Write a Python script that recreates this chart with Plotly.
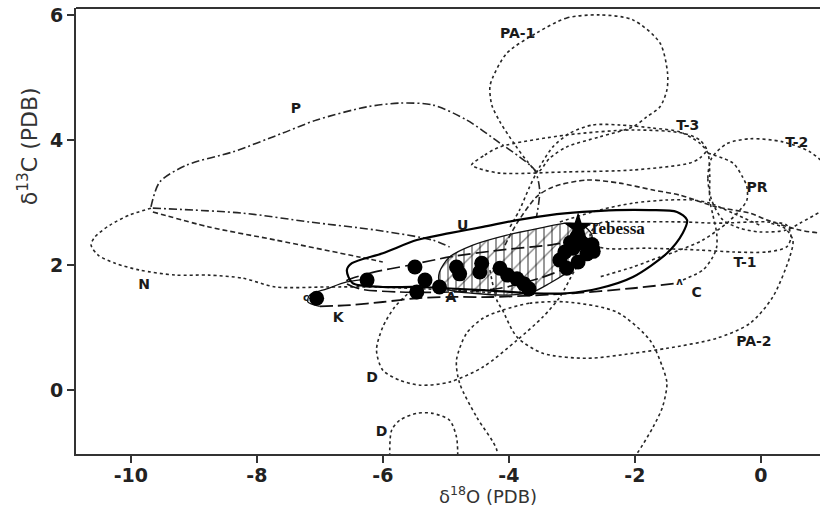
import plotly.graph_objects as go

# ---------------- data: envelope outlines (d18O, d13C) ----------------
p_upper_x = [-9.68, -9.54, -9.11, -8.38, -7.59, -7.05, -6.25, -5.73, -5.21, -4.67, -4.14, -3.83, -3.59, -3.51, -3.56]
p_upper_y = [2.93, 3.33, 3.60, 3.81, 4.11, 4.32, 4.53, 4.59, 4.56, 4.32, 3.95, 3.73, 3.52, 3.20, 2.77]
p_lower_x = [-9.65, -8.22, -7.17, -6.11, -5.21, -4.94]
p_lower_y = [2.91, 2.83, 2.69, 2.56, 2.40, 2.29]

n_outer_x = [-9.68, -10.02, -10.33, -10.57, -10.63, -10.52, -10.25, -9.86, -9.29, -8.76, -8.22, -7.70, -6.90, -6.11, -4.94, -4.14]
n_outer_y = [2.91, 2.80, 2.64, 2.45, 2.32, 2.16, 2.03, 1.92, 1.84, 1.84, 1.79, 1.65, 1.65, 1.65, 1.60, 1.55]
n_inner_x = [-9.65, -8.76, -7.70, -6.38, -6.00]
n_inner_y = [2.85, 2.61, 2.40, 2.13, 2.05]

pa1_x = [-2.56, -3.08, -3.56, -4.03, -4.25, -4.30, -4.27, -4.14, -3.90, -3.70, -3.54, -3.35, -3.08, -2.56, -2.03, -1.81, -1.60, -1.49, -1.48, -1.60, -2.03, -2.56]
pa1_y = [6.00, 5.95, 5.71, 5.39, 5.01, 4.85, 4.56, 4.29, 3.92, 3.65, 3.49, 3.71, 3.89, 4.05, 4.21, 4.37, 4.53, 4.80, 5.07, 5.55, 5.92, 6.00]

t3_x = [-4.59, -4.38, -4.14, -3.08, -2.03, -1.24, -0.97, -0.86, -0.97, -1.13, -2.03, -3.08, -4.14, -4.49, -4.59]
t3_y = [3.60, 3.76, 3.89, 4.08, 4.16, 4.11, 4.00, 3.84, 3.71, 3.63, 3.52, 3.49, 3.47, 3.55, 3.60]

arc_r_x = [-3.98, -3.83, -3.67, -3.51, -3.30, -3.03, -2.67, -2.24, -1.71, -1.29, -0.97, -0.84, -0.81, -0.81, -0.76, -0.70, -0.70, -0.76, -0.92, -1.24]
arc_r_y = [2.61, 2.88, 3.25, 3.57, 3.89, 4.11, 4.24, 4.24, 4.19, 4.13, 3.95, 3.79, 3.44, 3.04, 2.80, 2.51, 2.29, 2.13, 1.92, 1.76]

arc_s_x = [-4.06, -3.87, -3.56, -3.30, -2.76, -2.24, -1.71, -1.29, -0.70, -0.17, 0.10, 0.62, 0.94]
arc_s_y = [2.32, 2.67, 3.09, 3.25, 3.36, 3.31, 3.20, 3.12, 2.93, 2.83, 2.72, 2.56, 2.51]

arc_q_x = [-3.19, -2.56, -2.03, -1.49, -1.08, -0.81, -0.44, -0.02]
arc_q_y = [2.69, 2.88, 2.99, 3.04, 3.04, 2.99, 2.83, 2.64]

t2_x = [-0.78, -0.84, -0.78, -0.54, -0.17, 0.35, 0.78, 1.10, 1.25, 1.10, 0.94, 0.62, 0.41, -0.02, -0.33, -0.60, -0.78]
t2_y = [3.04, 3.39, 3.71, 3.94, 4.02, 3.97, 3.81, 3.52, 3.12, 2.96, 2.85, 2.67, 2.56, 2.53, 2.59, 2.72, 3.04]

pr_x = [-0.84, -0.44, -0.29, -0.22, -0.22, -0.33, -0.54, -0.92, -1.29, -1.60, -2.03, -2.56]
pr_y = [3.79, 3.63, 3.41, 3.25, 3.04, 2.88, 2.67, 2.40, 2.24, 2.13, 1.97, 1.81]

t1_x = [-2.71, -2.56, -2.03, -1.24, -0.70, 0.10, 0.41, 0.48, 0.41, 0.10, -0.44, -0.97, -1.76, -2.56, -2.71]
t1_y = [2.48, 2.67, 2.69, 2.69, 2.67, 2.69, 2.64, 2.45, 2.29, 2.21, 2.21, 2.24, 2.27, 2.29, 2.48]

pa2_x = [-4.30, -4.19, -4.10, -3.87, -3.46, -2.76, -2.03, -1.49, -0.70, -0.17, 0.19, 0.46, 0.51, 0.38, 0.14]
pa2_y = [1.92, 1.44, 1.28, 0.85, 0.59, 0.51, 0.59, 0.67, 0.83, 1.07, 1.49, 2.13, 2.40, 2.59, 2.67]

big_x = [-4.10, -3.67, -3.08, -2.29, -1.76, -1.56, -1.49, -1.56, -1.71, -1.97, -2.24, -3.19, -4.22, -4.19, -4.51, -4.78, -4.83, -4.67, -4.41, -4.10]
big_y = [1.28, 1.39, 1.41, 1.25, 0.80, 0.37, 0.11, -0.27, -0.59, -1.02, -1.36, -1.52, -1.28, -0.96, -0.43, 0.11, 0.48, 0.91, 1.15, 1.28]

d_up_x = [-5.54, -5.81, -6.00, -6.10, -6.00, -5.73, -5.41, -4.94, -4.41, -3.87, -3.46, -3.19, -2.95, -2.71]
d_up_y = [1.60, 1.33, 1.01, 0.64, 0.32, 0.16, 0.08, 0.13, 0.37, 0.80, 1.17, 1.49, 1.92, 2.27]

d_low_x = [-5.89, -5.86, -5.73, -5.46, -5.21, -4.94, -4.83, -4.81]
d_low_y = [-1.06, -0.64, -0.48, -0.37, -0.37, -0.48, -0.75, -1.06]

kc_x = [-7.00, -6.52, -6.00, -5.46, -4.94, -4.25, -2.98, -2.03, -1.33]
kc_y = [1.34, 1.36, 1.41, 1.47, 1.49, 1.49, 1.55, 1.63, 1.71]

k_top_x = [-7.00, -7.19, -7.16, -6.89, -6.57, -6.25]
k_top_y = [1.34, 1.41, 1.52, 1.62, 1.73, 1.78]

a_x = [-6.60, -6.21, -5.57, -4.94, -4.14, -3.35, -2.71, -2.56, -2.87, -3.51, -4.14, -4.94, -5.73, -6.37, -6.60]
a_y = [1.73, 1.87, 2.00, 2.13, 2.24, 2.32, 2.40, 2.27, 2.05, 1.79, 1.63, 1.57, 1.57, 1.62, 1.73]

u_x = [-6.57, -6.49, -6.00, -5.46, -4.94, -4.41, -3.87, -3.35, -2.83, -2.29, -1.76, -1.33, -1.17, -1.24, -1.49, -2.03, -2.56, -3.08, -3.62, -4.41, -5.46, -6.00, -6.48, -6.57]
u_y = [1.92, 2.03, 2.19, 2.40, 2.51, 2.61, 2.72, 2.80, 2.85, 2.88, 2.88, 2.85, 2.72, 2.51, 2.19, 1.81, 1.63, 1.55, 1.55, 1.60, 1.65, 1.65, 1.71, 1.92]

hatch_x = [-5.10, -4.94, -4.57, -4.03, -3.51, -3.08, -2.83, -2.68, -2.75, -2.98, -3.35, -3.62, -4.03, -4.57, -4.94, -5.10, -5.10]
hatch_y = [1.89, 2.13, 2.32, 2.48, 2.59, 2.67, 2.64, 2.48, 2.21, 1.95, 1.71, 1.57, 1.52, 1.55, 1.60, 1.73, 1.89]

# ---------------- data: samples ----------------
sample_o = [-7.05, -6.25, -5.49, -5.33, -5.46, -5.10, -4.83, -4.78, -4.43, -4.46, -4.14, -4.02, -3.87, -3.76, -3.68,
            -3.19, -3.08, -2.98, -2.83, -2.76, -2.92, -2.68, -3.11, -2.90, -2.66, -3.02]
sample_c = [1.47, 1.76, 1.97, 1.76, 1.57, 1.65, 1.97, 1.86, 2.03, 1.89, 1.95, 1.84, 1.78, 1.70, 1.62,
            2.08, 1.95, 2.27, 2.35, 2.18, 2.45, 2.33, 2.21, 2.05, 2.22, 2.36]
tebessa_o = [-2.90]
tebessa_c = [2.60]

# ---------------- data: labels ----------------
label_text = ["P", "PA-1", "T-3", "T-2", "PR", "U", "N", "K", "A", "C", "T-1", "PA-2", "D", "D"]
label_x = [-7.38, -3.86, -1.16, 0.57, -0.06, -4.73, -9.79, -6.71, -4.92, -1.02, -0.25, -0.11, -6.17, -6.02]
label_y = [4.48, 5.68, 4.22, 3.95, 3.22, 2.61, 1.68, 1.15, 1.47, 1.55, 2.03, 0.77, 0.19, -0.67]
small_text = ["c", "ʌ"]
small_x = [-7.22, -1.29]
small_y = [1.47, 1.72]
site_text = ["Tebessa"]
site_x = [-2.73]
site_y = [2.57]

x_ticks = [-10, -8, -6, -4, -2, 0]
x_tick_text = ["-10", "-8", "-6", "-4", "-2", "0"]
y_ticks = [0, 2, 4, 6]
y_tick_text = ["0", "2", "4", "6"]

# ---------------- figure ----------------
fig = go.Figure()

GREY = "#262626"
DOT = "3px,3px"
DASHDOT = "8px,3px,2px,3px"
LONG = "13px,5px"
MID = "5px,3px"

# hatched lens
fig.add_trace(go.Scatter(
    x=hatch_x, y=hatch_y, mode="lines", fill="toself",
    fillcolor="rgba(255,255,255,0)",
    fillpattern=dict(shape="|", fgcolor="#000", bgcolor="rgba(255,255,255,0)", size=8, solidity=0.2),
    line=dict(color="#111", width=1.3, shape="spline", smoothing=0.8),
    hoverinfo="skip", showlegend=False))
fig.add_trace(go.Scatter(
    x=hatch_x, y=hatch_y, mode="lines", fill="toself",
    fillcolor="rgba(255,255,255,0)",
    fillpattern=dict(shape="/", fgcolor="#000", bgcolor="rgba(255,255,255,0)", size=13, solidity=0.1),
    line=dict(color="#111", width=0, shape="spline", smoothing=0.8),
    hoverinfo="skip", showlegend=False))

outlines = [
    (p_upper_x, p_upper_y, DASHDOT, 1.6, GREY),
    (p_lower_x, p_lower_y, DASHDOT, 1.6, GREY),
    (n_outer_x, n_outer_y, DOT, 1.6, GREY),
    (n_inner_x, n_inner_y, MID, 1.6, GREY),
    (pa1_x, pa1_y, DOT, 1.6, GREY),
    (t3_x, t3_y, DOT, 1.6, GREY),
    (arc_r_x, arc_r_y, DOT, 1.6, GREY),
    (arc_s_x, arc_s_y, MID, 1.6, GREY),
    (arc_q_x, arc_q_y, DOT, 1.5, GREY),
    (t2_x, t2_y, DOT, 1.6, GREY),
    (pr_x, pr_y, DOT, 1.6, GREY),
    (t1_x, t1_y, DOT, 1.6, GREY),
    (pa2_x, pa2_y, DOT, 1.6, GREY),
    (big_x, big_y, DOT, 1.6, GREY),
    (d_up_x, d_up_y, DOT, 1.6, GREY),
    (d_low_x, d_low_y, DOT, 1.6, GREY),
    (kc_x, kc_y, LONG, 1.8, "#111"),
    (k_top_x, k_top_y, "solid", 1.3, "#111"),
    (a_x, a_y, LONG, 1.7, "#111"),
    (u_x, u_y, "solid", 2.2, "#000"),
]
for xs, ys, dash, w, col in outlines:
    fig.add_trace(go.Scatter(
        x=xs, y=ys, mode="lines",
        line=dict(color=col, width=w, dash=dash, shape="spline", smoothing=0.8),
        hoverinfo="skip", showlegend=False))

fig.add_trace(go.Scatter(
    x=sample_o, y=sample_c, mode="markers",
    marker=dict(size=15, color="#000", line=dict(width=0)),
    hoverinfo="skip", showlegend=False))
fig.add_trace(go.Scatter(
    x=tebessa_o, y=tebessa_c, mode="markers",
    marker=dict(symbol="star", size=22, color="#000"),
    hoverinfo="skip", showlegend=False))

fig.add_trace(go.Scatter(
    x=label_x, y=label_y, mode="text", text=label_text,
    textfont=dict(family="DejaVu Sans", size=14, color="#1a1a1a", weight="bold"),
    hoverinfo="skip", showlegend=False))
fig.add_trace(go.Scatter(
    x=small_x, y=small_y, mode="text", text=small_text,
    textfont=dict(family="DejaVu Sans", size=10, color="#1a1a1a", weight="bold"),
    hoverinfo="skip", showlegend=False))
fig.add_trace(go.Scatter(
    x=site_x, y=site_y, mode="text", text=site_text,
    textposition="middle right",
    textfont=dict(family="Liberation Serif", size=17, color="#111", weight="bold"),
    hoverinfo="skip", showlegend=False))

tickfont = dict(family="DejaVu Sans", size=19, color="#222", weight="bold")
fig.update_layout(
    width=820, height=508,
    margin=dict(l=76, r=0, t=8, b=54),
    paper_bgcolor="white", plot_bgcolor="white",
    showlegend=False,
    xaxis=dict(range=[-10.87, 0.94], tickvals=x_ticks, ticktext=x_tick_text,
               showgrid=False, zeroline=False, showline=True, linecolor="#333", linewidth=2,
               ticks="outside", ticklen=7, tickwidth=1.5, tickcolor="#333", tickfont=tickfont,
               ticklabelstandoff=-4),
    yaxis=dict(range=[-1.02, 6.11], tickvals=y_ticks, ticktext=y_tick_text,
               showgrid=False, zeroline=False, showline=True, linecolor="#333", linewidth=2,
               ticks="outside", ticklen=7, tickwidth=1.5, tickcolor="#333", tickfont=tickfont),
    shapes=[dict(type="line", xref="paper", yref="paper", x0=0, x1=1, y0=1, y1=1,
                 line=dict(color="#333", width=2))],
    annotations=[
        dict(text="δ<sup>18</sup>O (PDB)", xref="paper", yref="paper", x=0.554, y=-0.092,
             xanchor="center", yanchor="middle",
             showarrow=False, font=dict(family="DejaVu Sans", size=18, color="#333")),
        dict(text="δ<sup>13</sup>C (PDB)", xref="paper", yref="paper", x=-0.0645, y=0.69,
             xanchor="center", yanchor="middle",
             textangle=-90, showarrow=False, font=dict(family="DejaVu Sans", size=22, color="#333")),
    ],
)

fig.write_html("out.html")
